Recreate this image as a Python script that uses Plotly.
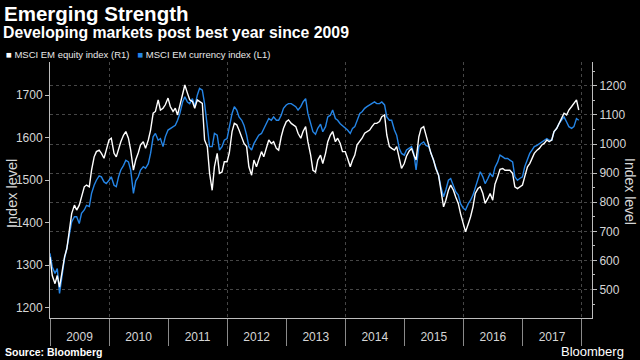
import pandas as pd
import plotly.graph_objects as go

# semi-monthly observation dates (1st and 15th of each month), Jan 2009 - Dec 2017
dates = pd.date_range("2009-01-01", periods=216, freq="SMS")

# MSCI EM currency index (left axis, L1)
currency = [
    1328, 1296, 1281, 1292, 1234, 1273, 1316, 1340, 1375, 1402, 1414, 1414, 1398, 1422, 1430, 1441,
    1438, 1469, 1488, 1500, 1510, 1508, 1496, 1492, 1500, 1508, 1488, 1485, 1508, 1524, 1535, 1547,
    1543, 1524, 1469, 1498, 1508, 1524, 1532, 1528, 1539, 1563, 1602, 1610, 1594, 1598, 1579, 1602,
    1618, 1622, 1626, 1629, 1641, 1657, 1684, 1696, 1684, 1680, 1692, 1673, 1700, 1716, 1712, 1680,
    1626, 1579, 1579, 1610, 1606, 1571, 1579, 1594, 1598, 1624, 1657, 1673, 1665, 1649, 1641, 1629,
    1606, 1579, 1571, 1586, 1598, 1606, 1610, 1622, 1633, 1645, 1641, 1649, 1641, 1641, 1653, 1669,
    1677, 1680, 1680, 1677, 1673, 1665, 1673, 1684, 1692, 1657, 1633, 1614, 1608, 1622, 1632, 1614,
    1626, 1649, 1653, 1665, 1645, 1641, 1633, 1629, 1622, 1618, 1610, 1622, 1626, 1641, 1657, 1661,
    1669, 1673, 1677, 1680, 1684, 1680, 1680, 1684, 1677, 1649, 1641, 1641, 1618, 1606, 1575, 1563,
    1559, 1571, 1575, 1579, 1563, 1524, 1579, 1586, 1590, 1582, 1579, 1563, 1547, 1532, 1512, 1485,
    1461, 1477, 1500, 1504, 1488, 1473, 1465, 1445, 1434, 1430, 1445, 1453, 1465, 1481, 1500, 1520,
    1508, 1492, 1504, 1516, 1508, 1530, 1543, 1559, 1555, 1551, 1551, 1547, 1543, 1508, 1500, 1504,
    1508, 1532, 1551, 1563, 1571, 1579, 1582, 1586, 1590, 1594, 1598, 1594, 1594, 1614, 1622, 1633,
    1641, 1649, 1637, 1626, 1622, 1626, 1645, 1641,
]

# MSCI EM equity index (right axis, R1)
equity = [
    612, 548, 520, 548, 508, 554, 612, 640, 715, 761, 790, 773, 790, 818, 853, 859,
    853, 910, 956, 974, 979, 968, 951, 979, 1014, 1020, 968, 956, 985, 1008, 1031, 1043,
    1020, 979, 910, 945, 970, 997, 1008, 985, 1014, 1048, 1106, 1112, 1152, 1117, 1123, 1135,
    1158, 1129, 1112, 1123, 1100, 1129, 1169, 1203, 1175, 1152, 1146, 1123, 1152, 1146, 1140, 1014,
    991, 899, 841, 922, 968, 899, 904, 939, 939, 970, 1043, 1071, 1066, 1048, 1025, 1002,
    991, 922, 893, 945, 922, 945, 974, 956, 991, 1014, 1002, 1008, 985, 979, 1025, 1054,
    1077, 1083, 1071, 1066, 1060, 1037, 1020, 1043, 1060, 1008, 962, 910, 904, 945, 962, 933,
    968, 1008, 1031, 1043, 1008, 1020, 1002, 974, 974, 951, 922, 945, 962, 997, 1008, 1020,
    1037, 1043, 1048, 1060, 1071, 1071, 1077, 1094, 1100, 1031, 991, 985, 979, 991, 956, 916,
    933, 959, 976, 985, 962, 945, 1025, 1054, 1060, 1031, 1002, 968, 945, 916, 893, 836,
    784, 807, 841, 859, 841, 818, 796, 761, 726, 698, 726, 750, 784, 830, 847, 853,
    830, 796, 813, 830, 807, 862, 888, 913, 916, 910, 910, 910, 899, 853, 847, 853,
    859, 888, 922, 933, 951, 968, 979, 985, 997, 1002, 1014, 1008, 1014, 1043, 1054, 1071,
    1089, 1106, 1100, 1117, 1129, 1140, 1152, 1117,
]

series_names = ["MSCI EM equity index (R1)", "MSCI EM currency index (L1)"]
year_range = ["2009-01-01", "2018-03-07"]

WHITE = "#ffffff"
BLUE = "#2585e6"
AXIS = "#bdbdbd"
TICKTXT = "#d6d6d6"
GRID = "#464646"
SANS = "Liberation Sans, Arial, sans-serif"
TICKFONT = dict(family=SANS, size=12, color=TICKTXT)

fig = go.Figure()
fig.add_trace(go.Scatter(x=dates, y=equity, name=series_names[0], yaxis="y2",
                         mode="lines", line=dict(color=WHITE, width=1.4), showlegend=False))
fig.add_trace(go.Scatter(x=dates, y=currency, name=series_names[1], yaxis="y",
                         mode="lines", line=dict(color=BLUE, width=1.4), showlegend=False))
# empty helper trace so the two-year grid axis gets drawn
fig.add_trace(go.Scatter(x=year_range, y=[None, None], xaxis="x2", yaxis="y",
                         mode="lines", showlegend=False, hoverinfo="skip"))

# plot area: x 50..592, y 62..318 in a 640x360 canvas
L, R, T, B = 50, 48, 62, 42
PW, PH = 640 - L - R, 360 - T - B


def px(xp):
    return (xp - L) / PW


def py(yp):
    return (360 - B - yp) / PH


fig.update_layout(
    width=640, height=360,
    margin=dict(l=L, r=R, t=T, b=B),
    paper_bgcolor="#000000", plot_bgcolor="#000000",
    font=dict(family=SANS, color=TICKTXT),
    xaxis=dict(type="date", range=year_range, tick0="2009-01-01", dtick="M12",
               ticks="outside", ticklen=27, tickwidth=1, tickcolor="#8a8a8a",
               ticklabelmode="period", tickformat="%Y", ticklabelstandoff=-19,
               tickfont=TICKFONT, showgrid=False, zeroline=False,
               showline=True, linecolor=AXIS, linewidth=1),
    xaxis2=dict(type="date", range=year_range, overlaying="x", anchor="y",
                tick0="2010-01-01", dtick="M24", ticks="", showticklabels=False,
                showgrid=True, gridcolor=GRID, griddash="dot", gridwidth=1,
                showline=False, zeroline=False),
    yaxis=dict(range=[1176, 1778], tick0=0, dtick=100, ticks="outside", ticklen=4,
               tickcolor=AXIS, showgrid=False, zeroline=False, showline=True,
               linecolor=AXIS, linewidth=1, tickfont=TICKFONT),
    yaxis2=dict(range=[402, 1282], tick0=0, dtick=100, overlaying="y", side="right",
                ticks="outside", ticklen=4, tickcolor=AXIS, showgrid=True,
                gridcolor=GRID, griddash="dot", gridwidth=1, zeroline=False,
                showline=True, linecolor=AXIS, linewidth=1, tickfont=TICKFONT,
                minor=dict(dtick=50, ticks="outside", ticklen=2, tickcolor=AXIS, showgrid=False)),
)

ann = [
    dict(text="<b>Emerging Strength</b>", x=px(2), y=py(13), xanchor="left", yanchor="middle",
         font=dict(size=20.5, color="#ffffff", family=SANS)),
    dict(text="<b>Developing markets post best year since 2009</b>", x=px(1), y=py(32),
         xanchor="left", yanchor="middle",
         font=dict(size=15.8, color="#ffffff", family=SANS)),
    dict(text=(f"<span style='color:{WHITE}'>■</span> {series_names[0]}"
               f"   <span style='color:{BLUE}'>■</span> {series_names[1]}"),
         x=px(4), y=py(54), xanchor="left", yanchor="middle",
         font=dict(size=9.5, color="#e8e8e8", family=SANS)),
    dict(text="Index level", x=px(12), y=py(194), textangle=-90, xanchor="center", yanchor="middle",
         font=dict(size=14.5, color=TICKTXT, family=SANS)),
    dict(text="Index level", x=px(630), y=py(191), textangle=90, xanchor="center", yanchor="middle",
         font=dict(size=14, color=TICKTXT, family=SANS)),
    dict(text="<b>Source: Bloomberg</b>", x=px(3), y=py(352), xanchor="left", yanchor="middle",
         font=dict(size=10.5, color="#ffffff", family=SANS)),
    dict(text="Bloomberg", x=px(626), y=py(351), xanchor="right", yanchor="middle",
         font=dict(size=13, color="#ffffff", family=SANS)),
]
for a in ann:
    a.update(xref="paper", yref="paper", showarrow=False)
fig.update_layout(annotations=ann)

fig.write_html("out.html", config={"displayModeBar": False},
               post_script="document.body.style.margin='0';")
